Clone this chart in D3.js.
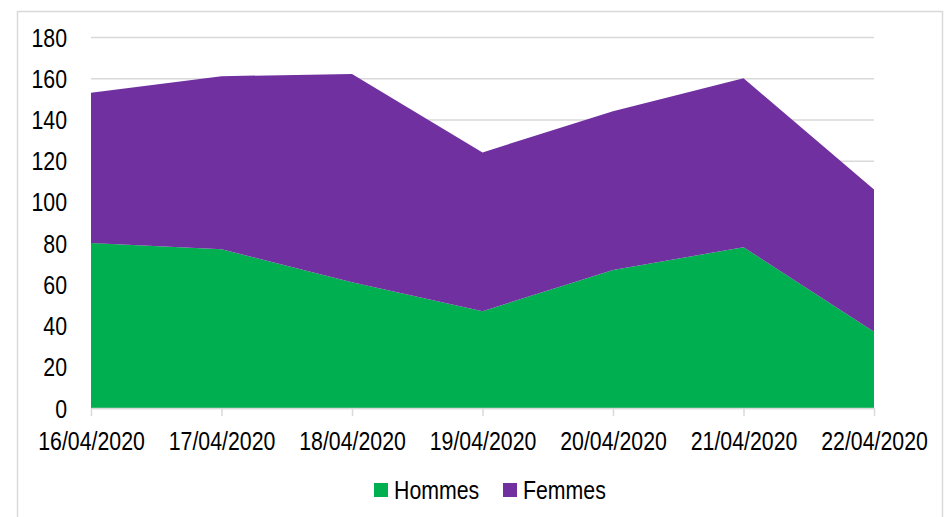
<!DOCTYPE html>
<html>
<head>
<meta charset="utf-8">
<script src="https://cdn.jsdelivr.net/npm/d3@7/dist/d3.min.js"></script>
<style>
  html, body { margin: 0; padding: 0; background: #fff; }
  svg { display: block; }
  text { font-family: 'Liberation Sans', Arial, sans-serif; fill: #000; }
</style>
</head>
<body>
<svg id="chart" width="944" height="517"></svg>
<script>
const dates = ['16/04/2020', '17/04/2020', '18/04/2020', '19/04/2020', '20/04/2020', '21/04/2020', '22/04/2020']
const hommes = [80, 77, 61, 47, 67, 78, 37]
const femmes = [73, 84, 101, 77, 77, 82, 69]
const yTicks = [0, 20, 40, 60, 80, 100, 120, 140, 160, 180]
const seriesNames = ['Hommes', 'Femmes']
const colors = ['#00b050', '#7030a0']

// the reference font is a narrow sans, so squeeze the glyphs horizontally
const squeeze = 0.82

const svg = d3.select('#chart')
const margin = { left: 91, right: 70, top: 37, bottom: 109 }
const width = 944 - margin.left - margin.right
const height = 517 - margin.top - margin.bottom

// outer chart frame
svg.append('rect')
  .attr('x', 17.5).attr('y', 11.5)
  .attr('width', 925).attr('height', 520)
  .attr('fill', 'none')
  .attr('stroke', '#d9d9d9')
  .attr('stroke-width', 1.5)

const g = svg.append('g').attr('transform', `translate(${margin.left},${margin.top})`)

const table = dates.map((d, i) => ({ date: d, Hommes: hommes[i], Femmes: femmes[i] }))
const stacked = d3.stack().keys(seriesNames)(table)

const xScale = d3.scalePoint().domain(dates).range([0, width])
const yScale = d3.scaleLinear().domain([0, 180]).range([height, 0])

const yAxis = d3.axisLeft(yScale)
  .tickValues(yTicks)
  .tickSize(-width)

function customYAxis (sel) {
  sel.call(yAxis)
  sel.select('.domain').remove()
  sel.selectAll('.tick line')
    .style('stroke', '#d9d9d9')
    .style('stroke-width', 1.5)
  sel.selectAll('.tick text')
    .style('font-size', '26px')
    .attr('x', -24 / squeeze)
    .attr('dy', '0.35em')
    .attr('transform', `scale(${squeeze},1)`)
}
g.append('g').call(customYAxis)

const area = d3.area()
  .x(d => xScale(d.data.date))
  .y0(d => yScale(d[0]))
  .y1(d => yScale(d[1]))

g.selectAll('.layer')
  .data(stacked)
  .join('path')
  .attr('class', 'layer')
  .attr('fill', (d, i) => colors[i])
  .attr('d', area)

const xAxis = d3.axisBottom(xScale)
  .tickSizeInner(8)
  .tickSizeOuter(0)
  .tickPadding(16)

function customXAxis (sel) {
  sel.call(xAxis)
  sel.select('.domain')
    .style('stroke', '#d9d9d9')
    .style('stroke-width', 1.5)
  sel.selectAll('.tick line')
    .style('stroke', '#d9d9d9')
    .style('stroke-width', 1.5)
  sel.selectAll('.tick text')
    .style('font-size', '26px')
    .attr('transform', `scale(${squeeze},1)`)
}
g.append('g')
  .attr('transform', `translate(0,${height})`)
  .call(customXAxis)

// legend
const legendX = [374, 503]
const legend = svg.append('g')
seriesNames.forEach((name, i) => {
  legend.append('rect')
    .attr('x', legendX[i]).attr('y', 483)
    .attr('width', 14).attr('height', 14)
    .attr('fill', colors[i])
  legend.append('text')
    .attr('x', (legendX[i] + 20) / squeeze).attr('y', 490)
    .attr('dy', '0.35em')
    .attr('transform', `scale(${squeeze},1)`)
    .style('font-size', '26px')
    .text(name)
})
</script>
</body>
</html>
